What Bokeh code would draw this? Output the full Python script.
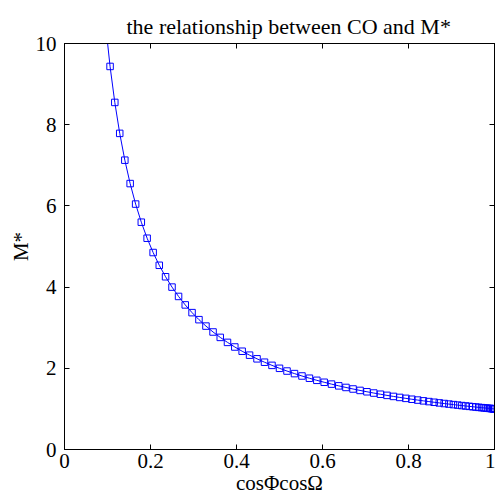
from bokeh.plotting import figure
from bokeh.models import Range1d, LinearAxis, FixedTicker
from bokeh.embed import file_html
from bokeh.resources import INLINE

# cosPhi*cosOmega values (markers) and M*
x_vals = [1.0, 0.99970, 0.99878, 0.99726, 0.99513, 0.99240, 0.98907, 0.98515,
          0.98063, 0.97553, 0.96985, 0.96359, 0.95677, 0.94940, 0.94147, 0.93301,
          0.92402, 0.91452, 0.90451, 0.89401, 0.88302, 0.87157, 0.85967, 0.84733,
          0.83457, 0.82139, 0.80783, 0.79389, 0.77960, 0.76496, 0.75, 0.73474,
          0.71919, 0.70337, 0.68730, 0.67101, 0.65451, 0.63782, 0.62096, 0.60396,
          0.58682, 0.56959, 0.55226, 0.53488, 0.51745, 0.5, 0.48255, 0.46512,
          0.44774, 0.43041, 0.41318, 0.39604, 0.37904, 0.36218, 0.34549, 0.32899,
          0.31270, 0.29663, 0.28081, 0.26526, 0.25, 0.23504, 0.22040, 0.20611,
          0.19217, 0.17861, 0.16543, 0.15267, 0.14033, 0.12843, 0.11698, 0.10599,
          0.09549]
m_vals = [1.0, 1.0003, 1.0012, 1.0027, 1.0049, 1.0077, 1.0111, 1.0151,
          1.0198, 1.0251, 1.0311, 1.0378, 1.0452, 1.0533, 1.0622, 1.0718,
          1.0822, 1.0935, 1.1056, 1.1186, 1.1325, 1.1474, 1.1632, 1.1802,
          1.1982, 1.2174, 1.2379, 1.2596, 1.2827, 1.3073, 1.3333, 1.3610,
          1.3905, 1.4217, 1.4550, 1.4903, 1.5279, 1.5678, 1.6104, 1.6557,
          1.7041, 1.7556, 1.8107, 1.8696, 1.9326, 2.0, 2.0723, 2.1500,
          2.2334, 2.3234, 2.4203, 2.5250, 2.6382, 2.7611, 2.8944, 3.0396,
          3.1980, 3.3712, 3.5611, 3.7699, 4.0, 4.2546, 4.5372, 4.8518,
          5.2037, 5.5988, 6.0449, 6.5501, 7.1261, 7.7863, 8.5485, 9.4349,
          10.472]

x_ticks = [0, 0.2, 0.4, 0.6, 0.8, 1]
x_tick_labels = ["0", "0.2", "0.4", "0.6", "0.8", "1"]
y_ticks = [0, 2, 4, 6, 8, 10]
y_tick_labels = ["0", "2", "4", "6", "8", "10"]

FONT = "Liberation Serif"

p = figure(width=495, height=501, output_backend="svg", toolbar_location=None,
           x_range=Range1d(0, 1), y_range=Range1d(0, 10),
           title="the relationship between CO and M*",
           min_border_left=64, min_border_right=1, min_border_top=43, min_border_bottom=52)

p.title.text_font = FONT
p.title.text_font_size = "22px"
p.title.text_font_style = "normal"
p.title.align = "left"
p.title.offset = 62
p.title.text_color = "black"

p.xgrid.visible = False
p.ygrid.visible = False
p.outline_line_color = "black"
p.outline_line_width = 1

for ax, ticks, labels, name, st in [(p.xaxis[0], x_ticks, x_tick_labels, "cosΦcosΩ", 4),
                                    (p.yaxis[0], y_ticks, y_tick_labels, "M*", 8)]:
    ax.ticker = FixedTicker(ticks=ticks)
    ax.major_label_overrides = {t: l for t, l in zip(ticks, labels)}
    ax.axis_label = name
    ax.axis_label_text_font = FONT
    ax.axis_label_text_font_size = "21px"
    ax.axis_label_text_font_style = "normal"
    ax.axis_label_text_color = "black"
    ax.major_label_text_font = FONT
    ax.major_label_text_font_size = "21px"
    ax.major_label_text_color = "black"
    ax.major_tick_in = 5
    ax.major_tick_out = 0
    ax.minor_tick_line_color = None
    ax.axis_line_color = "black"
    ax.major_tick_line_color = "black"
    ax.axis_label_standoff = 0
    ax.major_label_standoff = st

for loc, ticks in [("above", x_ticks), ("right", y_ticks)]:
    a = LinearAxis(ticker=FixedTicker(ticks=ticks),
                   major_label_overrides={t: "" for t in ticks},
                   major_tick_in=5, major_tick_out=0, minor_tick_line_color=None,
                   axis_line_color="black", major_label_standoff=0)
    p.add_layout(a, loc)

p.line(x_vals, m_vals, line_color="blue", line_width=1)
p.scatter(x_vals, m_vals, marker="square", size=6.5, fill_color=None,
          line_color="blue", line_width=1)

open("out.html", "w").write(file_html(p, INLINE))
